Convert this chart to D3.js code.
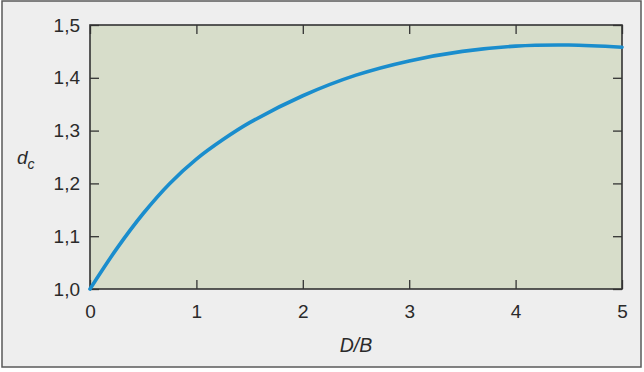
<!DOCTYPE html>
<html><head><meta charset="utf-8">
<script src="https://cdn.jsdelivr.net/npm/d3@7/dist/d3.min.js"></script>
<style>html,body{margin:0;padding:0;background:#fff;}svg{display:block;}</style>
</head><body><svg id="c" width="644" height="372"></svg>
<script>
const xTicks = [0, 1, 2, 3, 4, 5];
const yTicks = [1.0, 1.1, 1.2, 1.3, 1.4, 1.5];
const yTickLabels = ["1,0", "1,1", "1,2", "1,3", "1,4", "1,5"];
const ratioDB = [0, 0.25, 0.5, 0.75, 1, 1.25, 1.5, 2, 2.5, 3, 3.5, 4, 4.5, 5];
const dc = [1.0, 1.076, 1.143, 1.200, 1.246, 1.283, 1.315, 1.366, 1.405, 1.432, 1.450, 1.460, 1.462, 1.458];

const svg = d3.select("#c");
const W = 644, H = 372;
const m = {l: 90, r: 622, t: 25, b: 289};
svg.append("rect").attr("width", W).attr("height", H).attr("fill", "#ffffff");
svg.append("rect").attr("x", 2).attr("y", 1).attr("width", 639).attr("height", 366)
  .attr("fill", "#eeeeee").attr("stroke", "#5a5a5a").attr("stroke-width", 1.5);

const x = d3.scaleLinear().domain([0, 5]).range([m.l, m.r]);
const y = d3.scaleLinear().domain([1.0, 1.5]).range([m.b, m.t]);

svg.append("rect").attr("x", m.l).attr("y", m.t).attr("width", m.r - m.l).attr("height", m.b - m.t)
  .attr("fill", "#d7ddca");

const font = "'Liberation Sans', Arial, sans-serif";
const tl = 9;
const gB = svg.append("g").attr("transform", `translate(0,${m.b})`)
  .call(d3.axisBottom(x).tickValues(xTicks).tickSize(-tl).tickPadding(16).tickFormat(d3.format("d")));
const gT = svg.append("g").attr("transform", `translate(0,${m.t})`)
  .call(d3.axisTop(x).tickValues(xTicks).tickSize(-tl).tickFormat(""));
const gL = svg.append("g").attr("transform", `translate(${m.l},0)`)
  .call(d3.axisLeft(y).tickValues(yTicks).tickSize(-tl).tickPadding(10).tickFormat((d, i) => yTickLabels[i]));
const gR = svg.append("g").attr("transform", `translate(${m.r},0)`)
  .call(d3.axisRight(y).tickValues(yTicks).tickSize(-tl).tickFormat(""));
[gB, gT, gL, gR].forEach(g => {
  g.select(".domain").remove();
  g.selectAll(".tick line").attr("stroke", "#333").attr("stroke-width", 1.3);
  g.selectAll(".tick text").attr("font-family", font).attr("font-size", 19).attr("fill", "#2a2a2a");
});

svg.append("rect").attr("x", m.l).attr("y", m.t).attr("width", m.r - m.l).attr("height", m.b - m.t)
  .attr("fill", "none").attr("stroke", "#333").attr("stroke-width", 1.6);

const line = d3.line().x((d, i) => x(ratioDB[i])).y(d => y(d)).curve(d3.curveCatmullRom.alpha(0.5));
svg.append("path").datum(dc).attr("d", line).attr("fill", "none")
  .attr("stroke", "#1a8dcd").attr("stroke-width", 3.6).attr("stroke-linecap", "round");

svg.append("text").attr("x", 356).attr("y", 352).attr("text-anchor", "middle")
  .attr("font-family", font).attr("font-size", 19.5).attr("font-style", "italic").attr("fill", "#2a2a2a").text("D/B");
const yl = svg.append("text").attr("x", 17).attr("y", 164).attr("font-family", font)
  .attr("font-size", 19).attr("font-style", "italic").attr("fill", "#2a2a2a");
yl.append("tspan").text("d");
yl.append("tspan").attr("font-size", 14).attr("dy", 5).text("c");
</script></body></html>
